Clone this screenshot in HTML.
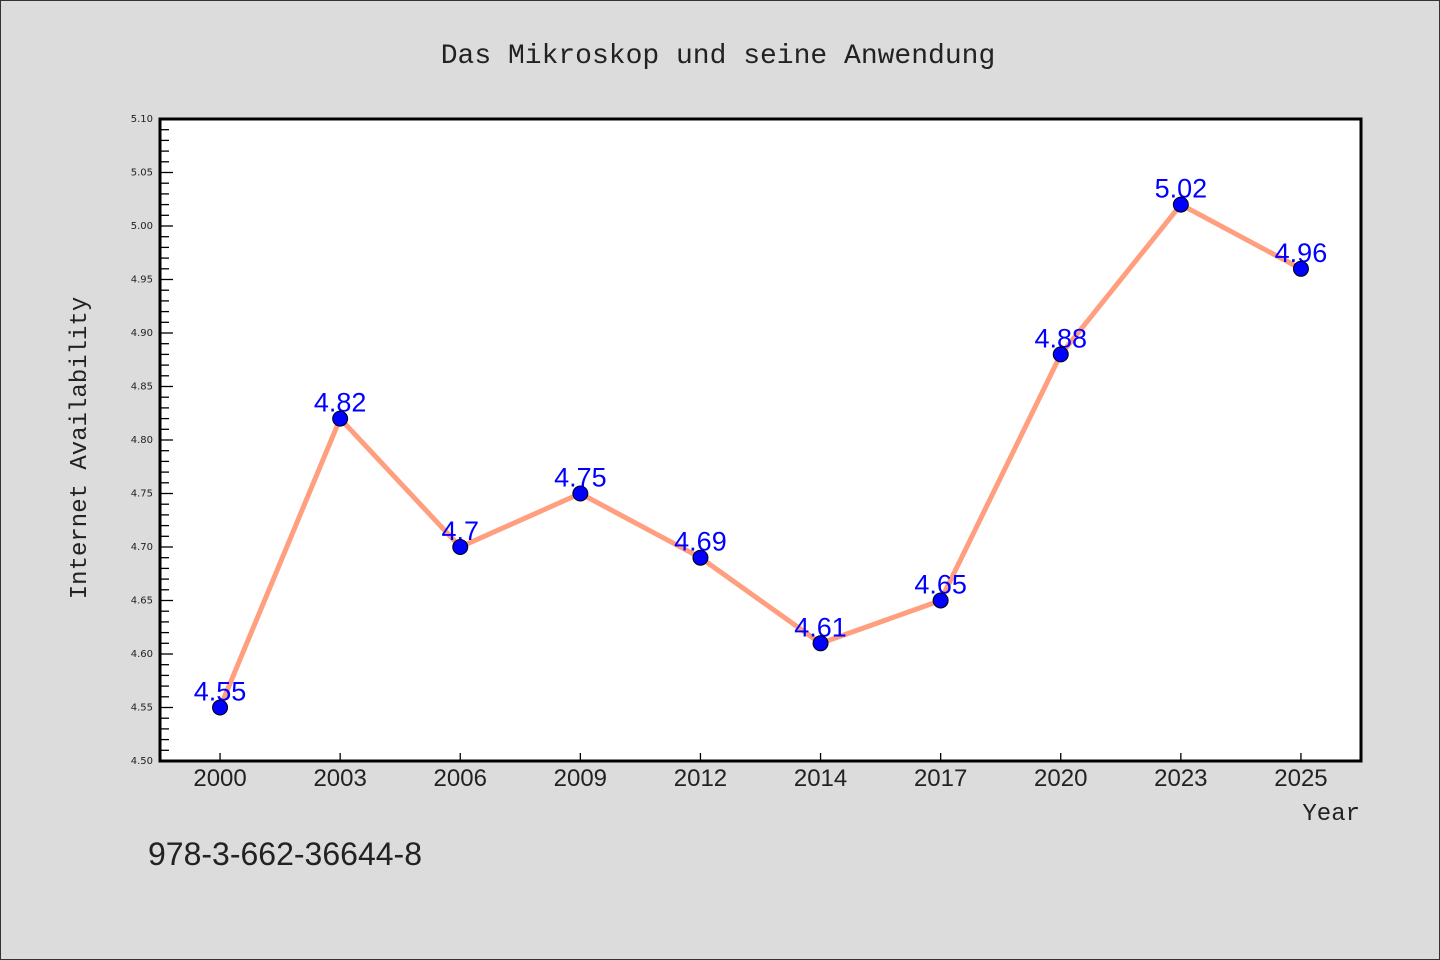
<!DOCTYPE html>
<html><head><meta charset="utf-8"><style>
body{margin:0;background:#dcdcdc}
svg{display:block;font-family:"Liberation Mono","DejaVu Sans Mono",monospace}
</style></head><body>
<svg id="c" width="1440" height="960">
<rect x="0.5" y="0.5" width="1439" height="959" fill="#dcdcdc" stroke="#333"/>
<text x="718" y="63" text-anchor="middle" font-size="28" fill="#222">Das Mikroskop und seine Anwendung</text>
<rect x="160" y="119" width="1201" height="642" fill="#fff"/>
<g id="ticks"></g>
<g id="marks"></g>
<path d="M160 119H1361V761H160Z" fill="none" stroke="#000" stroke-width="3"/>
<text x="86" y="448" transform="rotate(-90 86 448)" text-anchor="middle" font-size="24" fill="#222">Internet Availability</text>
<text x="1360" y="820" text-anchor="end" font-size="24" fill="#222">Year</text>
<text x="148" y="865" font-family="Liberation Sans,sans-serif" font-size="32" fill="#222">978-3-662-36644-8</text>
</svg>
<script>
const categories=["2000","2003","2006","2009","2012","2014","2017","2020","2023","2025"];
const values=[4.55,4.82,4.7,4.75,4.69,4.61,4.65,4.88,5.02,4.96];
const valueLabels=["4.55","4.82","4.7","4.75","4.69","4.61","4.65","4.88","5.02","4.96"];
const yTicks=[4.50,4.55,4.60,4.65,4.70,4.75,4.80,4.85,4.90,4.95,5.00,5.05,5.10];
const NS="http://www.w3.org/2000/svg";
const x0=160,x1=1361,yT=119,yB=761,yMin=4.5,yMax=5.1;
const band=(x1-x0)/categories.length;
const xs=i=>x0+band*(i+0.5);
const ys=v=>yB-(v-yMin)/(yMax-yMin)*(yB-yT);
function mk(tag,attrs,parent){const e=document.createElementNS(NS,tag);for(const k in attrs)e.setAttribute(k,attrs[k]);parent.appendChild(e);return e;}
const tk=document.getElementById('ticks'),mg=document.getElementById('marks');
for(let k=0;k<=60;k++){const v=yMin+k*0.01;const y=ys(v);const major=k%5===0;
 const l=mk('line',{x1:x0,x2:x0+(major?13:9),y1:y,y2:y,stroke:'#000','stroke-width':1.3},tk);
 
 }
yTicks.forEach(v=>{const t=mk('text',{x:x0-7,y:ys(v)+3,'text-anchor':'end','font-size':10,fill:'#222','font-family':'DejaVu Sans,sans-serif'},tk);t.textContent=v.toFixed(2);
 
 });
categories.forEach((c,i)=>{const l=mk('line',{x1:xs(i),x2:xs(i),y1:yB,y2:yB-8,stroke:'#000','stroke-width':1.3},tk);
 
 
 const t=mk('text',{x:xs(i),y:yB+25,'text-anchor':'middle','font-size':24,fill:'#222','font-family':'Liberation Sans,sans-serif'},tk);t.textContent=c;
 
 });
const line=mk('polyline',{points:values.map((v,i)=>xs(i)+','+ys(v)).join(' '),fill:'none',stroke:'#ff9f7f','stroke-width':5,'stroke-linejoin':'round'},mg);


values.forEach((v,i)=>{const t=mk('text',{x:xs(i),y:ys(v)-7,'text-anchor':'middle','font-size':27,fill:'#0000ff','font-family':'Liberation Sans,sans-serif'},mg);t.textContent=valueLabels[i];
 
 });
values.forEach((v,i)=>{const c=mk('circle',{cx:xs(i),cy:ys(v),r:7.5,fill:'#0000ff',stroke:'#000','stroke-width':1},mg);
 
 });
</script>
</body></html>
